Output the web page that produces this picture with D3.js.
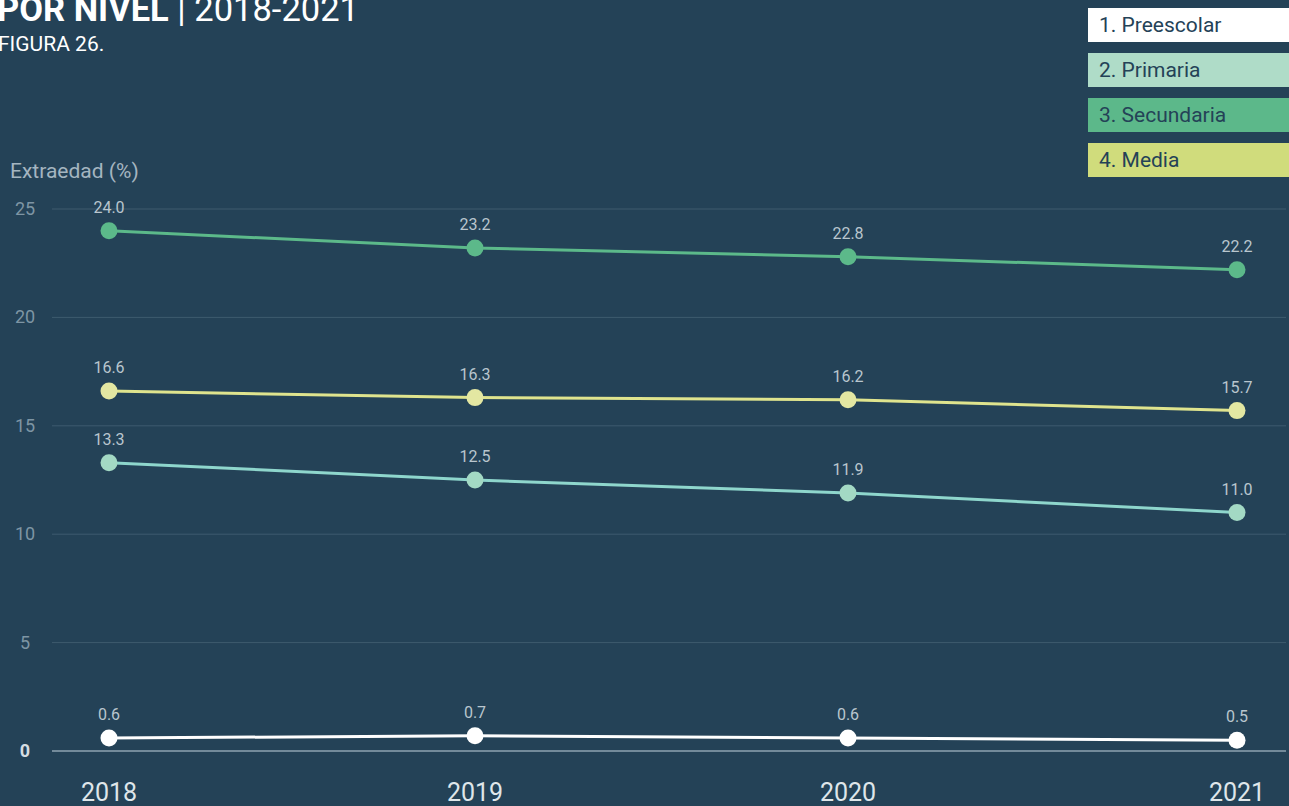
<!DOCTYPE html>
<html>
<head>
<meta charset="utf-8">
<script src="https://cdn.jsdelivr.net/npm/d3@7"></script>
<style>
  body { margin: 0; background: #244257; overflow: hidden; }
  svg { display: block; font-family: Roboto, "Noto Sans", sans-serif; }
</style>
</head>
<body>
<div id="chart"></div>
<script>
var years = [2018, 2019, 2020, 2021];
var preescolar = [0.6, 0.7, 0.6, 0.5];
var primaria = [13.3, 12.5, 11.9, 11.0];
var secundaria = [24.0, 23.2, 22.8, 22.2];
var media = [16.6, 16.3, 16.2, 15.7];
var seriesNames = ["1. Preescolar", "2. Primaria", "3. Secundaria", "4. Media"];
var yTicks = [0, 5, 10, 15, 20, 25];

var svgWidth = 1289;
var svgHeight = 806;

var series = [
  { name: seriesNames[0], values: preescolar, line: "#ffffff", dot: "#ffffff", box: "#ffffff" },
  { name: seriesNames[1], values: primaria, line: "#8ed6cc", dot: "#a3d9c4", box: "#afdcc8" },
  { name: seriesNames[2], values: secundaria, line: "#5cb98a", dot: "#5cb98a", box: "#5cb88a" },
  { name: seriesNames[3], values: media, line: "#dfe48e", dot: "#e3e7a2", box: "#d0dc7c" }
];

var svg = d3.select("#chart")
  .append("svg")
  .attr("width", svgWidth)
  .attr("height", svgHeight);

// scales (years are not evenly spaced in the original layout)
var x = d3.scaleLinear()
  .domain(years)
  .range([109, 475, 848, 1237]);

var y = d3.scaleLinear()
  .domain([0, 25])
  .range([751, 209]);

// title (cut at the top like the original)
var title = svg.append("text")
  .attr("x", -3)
  .attr("y", 21)
  .attr("fill", "#ffffff")
  .style("font-size", "34.5px");
title.append("tspan").attr("font-weight", "bold").text("POR NIVEL");
title.append("tspan").attr("font-weight", "normal").text(" | 2018-2021");

svg.append("text")
  .attr("x", -2)
  .attr("y", 51)
  .attr("fill", "#ffffff")
  .style("font-size", "21px")
  .text("FIGURA 26.");

// gridlines
svg.append("g")
  .selectAll("line")
  .data(yTicks)
  .enter()
  .append("line")
  .attr("x1", 52)
  .attr("x2", 1286)
  .attr("y1", d => y(d))
  .attr("y2", d => y(d))
  .attr("stroke", d => d === 0 ? "#8ea3b0" : "#3e5b6e")
  .attr("stroke-width", d => d === 0 ? 1.5 : 1);

// y tick labels
svg.append("g")
  .selectAll("text")
  .data(yTicks)
  .enter()
  .append("text")
  .attr("x", 25)
  .attr("y", d => y(d) + 6)
  .attr("text-anchor", "middle")
  .attr("fill", d => d === 0 ? "#d5dde2" : "#7e95a4")
  .attr("font-weight", d => d === 0 ? "bold" : "normal")
  .style("font-size", "18px")
  .text(d => d);

svg.append("text")
  .attr("x", 10)
  .attr("y", 178)
  .attr("fill", "#a4b5c0")
  .style("font-size", "21px")
  .text("Extraedad (%)");

// x labels
svg.append("g")
  .selectAll("text")
  .data(years)
  .enter()
  .append("text")
  .attr("x", d => x(d))
  .attr("y", 801)
  .attr("text-anchor", "middle")
  .attr("fill", "#dfe6ea")
  .style("font-size", "25px")
  .text(d => d);

var line = d3.line()
  .x((d, i) => x(years[i]))
  .y(d => y(d));

var groups = svg.selectAll(".series")
  .data(series)
  .enter()
  .append("g")
  .attr("class", "series");

groups.append("path")
  .attr("d", d => line(d.values))
  .attr("fill", "none")
  .attr("stroke", d => d.line)
  .attr("stroke-width", 3);

groups.each(function(s) {
  var g = d3.select(this);
  g.selectAll("circle")
    .data(s.values)
    .enter()
    .append("circle")
    .attr("cx", (d, i) => x(years[i]))
    .attr("cy", d => y(d))
    .attr("r", 8.5)
    .attr("fill", s.dot);

  g.selectAll("text")
    .data(s.values)
    .enter()
    .append("text")
    .attr("x", (d, i) => x(years[i]))
    .attr("y", d => y(d) - 18)
    .attr("text-anchor", "middle")
    .attr("fill", "#b9c6ce")
    .style("font-size", "16px")
    .text(d => d.toFixed(1));
});

// legend
var legend = svg.append("g")
  .selectAll("g")
  .data(series)
  .enter()
  .append("g")
  .attr("transform", (d, i) => `translate(1088, ${8 + i * 45})`);

legend.append("rect")
  .attr("width", 205)
  .attr("height", 34)
  .attr("fill", d => d.box);

legend.append("text")
  .attr("x", 11)
  .attr("y", 24)
  .attr("fill", "#244257")
  .style("font-size", "21px")
  .text(d => d.name);
</script>
</body>
</html>
